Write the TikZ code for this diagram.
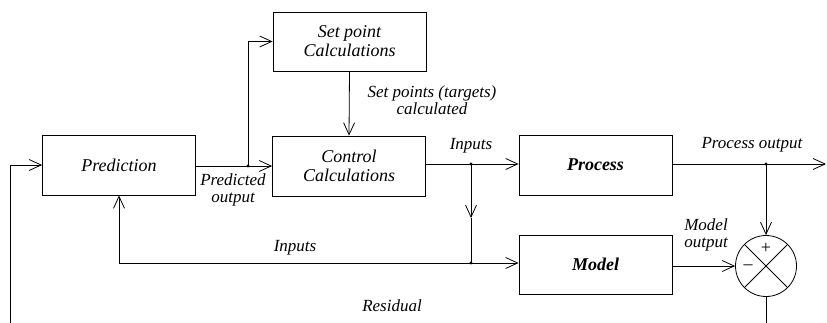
\documentclass[tikz,border=0pt]{standalone}
\usepackage{fontspec}
\setmainfont{Liberation Serif}
\newfontfamily\diagfont{Liberation Serif}
\usetikzlibrary{arrows.meta}
\begin{document}
\begin{tikzpicture}[x=1pt,y=-1pt,
  line width=0.8pt,
  box/.style={draw, minimum width=153pt, minimum height=60pt, inner sep=0pt,
    font=\diagfont\fontsize{18}{19}\selectfont\itshape, align=center},
  lbl/.style={font=\diagfont\fontsize{17}{16.5}\selectfont\itshape, align=center, inner sep=0pt},
  arr/.style={-{Straight Barb[length=12pt,width=11pt,line width=0.8pt]}},
  dot/.style={circle, fill, inner sep=0pt, minimum size=3.2pt}]
\useasboundingbox (0,0) rectangle (827,323);
% boxes
\node[box] (pred) at (119,165) {Prediction};
\node[box, minimum height=59pt] (setp) at (349.5,41.5) {Set point\\Calculations};
\node[box] (ctrl) at (349,166) {Control\\Calculations};
\node[box] (proc) at (595.5,165) {\bfseries Process};
\node[box, minimum height=59pt] (model) at (595.5,264.5) {\bfseries Model};
\node[draw, circle, minimum size=61pt, inner sep=0pt] (sum) at (766,266) {};
\draw (sum.45) -- (sum.225);
\draw (sum.135) -- (sum.-45);
\node[font=\diagfont\fontsize{18}{18}\selectfont] (plus) at (766,248) {+};
\node[font=\diagfont\fontsize{18}{18}\selectfont] (minus) at (748,267) {\textendash};
% junctions
\coordinate (j1) at (248,166);
\coordinate (j2) at (471,164);
\coordinate (j3) at (471,263);
\coordinate (j4) at (766,164);
\coordinate (mid) at (471,218);
\coordinate (outR) at (826,164);
\coordinate (resL) at (10,323);
\coordinate (resR) at (766,323);
\node[dot] at (j1) {};
\node[dot] at (j2) {};
\node[dot] at (j3) {};
\node[dot] at (j4) {};
% connectors
\draw[arr] (resL) |- (pred.west);
\draw (pred.east |- j1) -- (j1);
\draw[arr] (j1) -- (ctrl.west |- j1);
\draw[arr] (j1) |- (setp.west);
\draw[arr] (setp.south) -- (ctrl.north);
\draw (ctrl.east |- j2) -- (j2);
\draw[arr] (j2) -- (proc.west |- j2);
\draw[arr] (j2) -- (mid);
\draw (mid) -- (j3);
\draw[arr] (j3) -- (model.west |- j3);
\draw[arr] (j3) -| (pred.south);
\draw (proc.east |- j4) -- (j4);
\draw[arr] (j4) -- (outR);
\draw[arr] (j4) -- (sum.north);
\draw[arr] (model.east |- sum) -- (sum.west);
\draw (sum.south) -- (resR);
% labels
\node[lbl] (lpred) at (233,190) {Predicted\\output};
\node[lbl] (lsetp) at (432,100) {Set points (targets)\\calculated};
\node[lbl] (lin1) at (471,146) {Inputs};
\node[lbl] (lin2) at (295,248) {Inputs};
\node[lbl] (lproc) at (752,145) {Process output};
\node[lbl] (lmodel) at (706,235) {Model\\output};
\node[lbl] (lres) at (392,306) {Residual};
\end{tikzpicture}
\end{document}
